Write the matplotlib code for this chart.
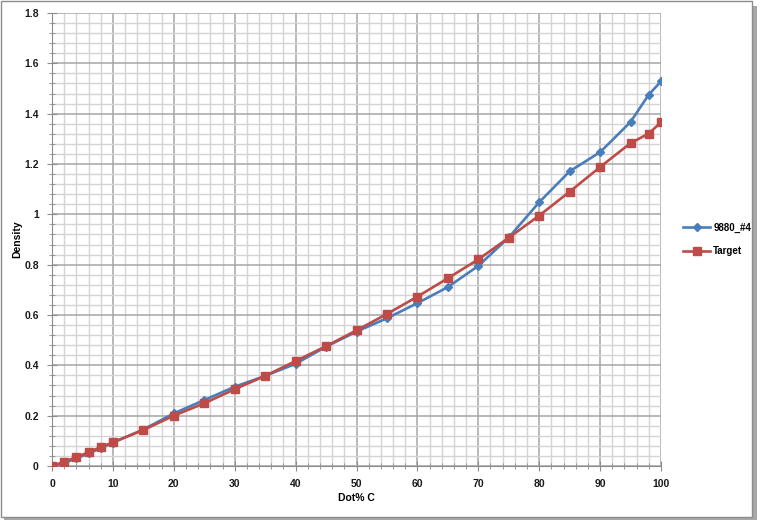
import numpy as np
import matplotlib.pyplot as plt
from matplotlib.patches import Rectangle
from matplotlib.ticker import MultipleLocator

plt.rcParams['font.family'] = ['Liberation Sans', 'DejaVu Sans']

# dot percentage of colour
dot_pct = [0, 2, 4, 6, 8, 10, 15, 20, 25, 30, 35, 40, 45, 50, 55, 60, 65, 70,
           75, 80, 85, 90, 95, 98, 100]
measured = [0, 0.012, 0.03, 0.05, 0.07, 0.093, 0.145, 0.209, 0.262, 0.315,
            0.358, 0.406, 0.474, 0.534, 0.587, 0.647, 0.711, 0.795, 0.908,
            1.048, 1.171, 1.247, 1.367, 1.476, 1.528]
target = [0, 0.017, 0.035, 0.055, 0.075, 0.094, 0.143, 0.2, 0.249, 0.305,
          0.358, 0.417, 0.476, 0.539, 0.604, 0.673, 0.746, 0.821, 0.907,
          0.995, 1.09, 1.188, 1.283, 1.321, 1.366]
series_names = ['9880_#4', 'Target']

blue = '#4a7ebb'
red = '#be4b48'

fig = plt.figure(figsize=(7.61, 5.21), dpi=100)

# outer chart frame with a drop shadow
fig.patches.append(Rectangle((4 / 761, 1 / 521), 753 / 761, 514 / 521, transform=fig.transFigure,
                             facecolor='#a8a8a8', edgecolor='none', zorder=0))
fig.patches.append(Rectangle((1 / 761, 4 / 521), 751 / 761, 516 / 521, transform=fig.transFigure,
                             facecolor='white', edgecolor='#8c8c8c', linewidth=1, zorder=1))

ax = fig.add_axes([52 / 761, 1 - 466 / 521, 609 / 761, 453 / 521])
ax.set_zorder(2)

ax.plot(dot_pct, measured, color=blue, lw=1.9, marker='D', ms=4.2,
        label=series_names[0], zorder=3)
ax.plot(dot_pct, target, color=red, lw=1.9, marker='s', ms=6,
        label=series_names[1], zorder=4)

ax.set_xlim(0, 100)
ax.set_ylim(0, 1.8)
ax.xaxis.set_major_locator(MultipleLocator(10))
ax.xaxis.set_minor_locator(MultipleLocator(2))
ax.yaxis.set_major_locator(MultipleLocator(0.2))
ax.yaxis.set_minor_locator(MultipleLocator(0.04))
ax.set_yticks(np.arange(0, 1.81, 0.2))
ax.set_yticklabels(['0', '0.2', '0.4', '0.6', '0.8', '1', '1.2', '1.4', '1.6', '1.8'])

ax.grid(which='major', color='#a6a6a6', lw=1.1)
ax.grid(which='minor', color='#d4d4d4', lw=1.0)
ax.set_axisbelow(True)

for s in ['top', 'right']:
    ax.spines[s].set_visible(False)
for s in ['left', 'bottom']:
    ax.spines[s].set_color('#8c8c8c')

ax.tick_params(which='major', direction='inout', length=7, color='#8c8c8c',
               labelsize=7.5, pad=6)
ax.tick_params(which='minor', direction='inout', length=4, color='#8c8c8c')
for lab in ax.get_xticklabels() + ax.get_yticklabels():
    lab.set_fontweight('bold')
    lab.set_color('#1a1a1a')

ax.set_xlabel('Dot% C', fontsize=7.5, fontweight='bold')
ax.set_ylabel('Density', fontsize=7.5, fontweight='bold')
ax.yaxis.set_label_coords(-0.049, 0.5)
ax.xaxis.set_label_coords(0.5, -0.06)

ax.legend(loc='center left', bbox_to_anchor=(1.03, 0.5), frameon=False,
          prop={'weight': 'bold', 'size': 7}, handlelength=2.8,
          handletextpad=0.3, borderaxespad=0, labelspacing=1.4)

fig.savefig('out.png', dpi=100)
